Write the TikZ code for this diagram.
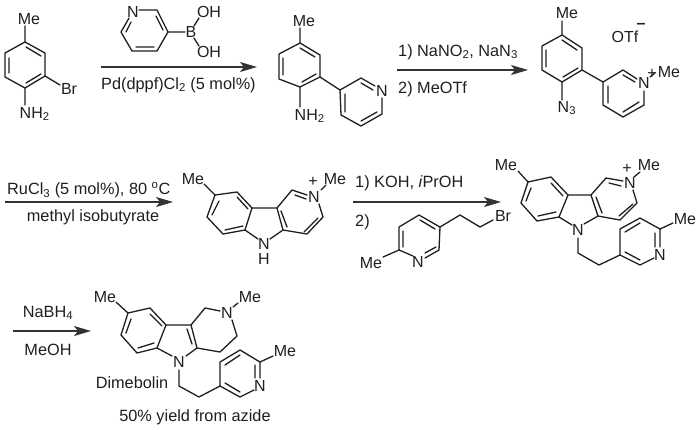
\documentclass[tikz,border=0pt]{standalone}
\usepackage{fontspec}
\setmainfont{Liberation Sans}
\usetikzlibrary{arrows.meta}
\tikzset{
  bond/.style={line width=1.3pt,line cap=round,line join=round,draw=black!88},
  rxn/.style={line width=1.3pt,draw=black!80,-{Stealth[length=17pt,width=10pt,inset=4pt]}},
  lab/.style={font=\fontsize{16}{17}\selectfont,inner sep=0pt,text=black!88},
  txt/.style={font=\fontsize{16.3}{17}\selectfont,inner sep=0pt,text=black!88},
}
\newcommand{\sbs}[1]{\textsubscript{#1}}
\begin{document}
\begin{tikzpicture}[x=1pt,y=-1pt]
\useasboundingbox (0,0) rectangle (700,429);
\fill[white] (0,0) rectangle (700,429);
% --- compound 1
\node[lab] (a1me) at (29,19) {Me};
\node[lab] (a1br) at (69,89) {Br};
\node[lab,anchor=west] (a1nh) at (19.5,114) {NH\sbs{2}};
\draw[bond] (25,26)--(25,42)--(45,53)--(45,76)--(25,88)--(5,77)--(5,53)--(25,42);
\draw[bond] (9,58)--(9,73) (26,47)--(41,56) (26,83)--(41,74);
\draw[bond] (45,76)--(60,85) (25,88)--(25,105);
% --- boronic acid
\node[lab] (bn) at (133,12) {N};
\node[lab] (bb) at (191,32) {B};
\node[lab] (boh1) at (209,12) {OH};
\node[lab] (boh2) at (209,52) {OH};
\draw[bond] (139,10)--(157,10)--(168,32)--(157,51)--(132,51)--(121,32)--(129,18);
\draw[bond] (156,16)--(163,30) (136,47)--(154,47) (126,32)--(131,22);
\draw[bond] (168,32)--(185,32) (194,26)--(199,18) (194,38)--(199,46);
% --- arrow 1
\coordinate (r1a) at (101,67); \coordinate (r1b) at (257,67);
\draw[rxn] (r1a)--(r1b);
\node[txt,anchor=west] (r1t) at (101,85) {Pd(dppf)Cl\sbs{2} (5 mol\%)};
% --- compound 2
\node[lab] (c2me) at (304,21) {Me};
\node[lab,anchor=west] (c2nh) at (294.5,116) {NH\sbs{2}};
\node[lab] (c2n) at (382,91) {N};
\draw[bond] (300,28)--(300,43)--(320,55)--(320,77)--(300,87)--(279,79)--(279,54)--(300,43);
\draw[bond] (283,58)--(283,75) (300,48)--(315,57) (302,82)--(316,74);
\draw[bond] (300,87)--(300,107) (320,77)--(340,90);
\draw[bond] (375,86)--(361,78)--(340,90)--(341,115)--(361,126)--(382,114)--(382,98);
\draw[bond] (345,94)--(345,112) (361,83)--(373,90) (361,121)--(377,112);
% --- arrow 2
\coordinate (r2a) at (397,70); \coordinate (r2b) at (528,70);
\draw[rxn] (r2a)--(r2b);
\node[txt,anchor=west] (r2t) at (398,52) {1) NaNO\sbs{2}, NaN\sbs{3}};
\node[txt,anchor=west] (r2u) at (398,89) {2) MeOTf};
% --- compound 3
\node[lab] (c3me) at (567,13) {Me};
\node[lab,anchor=west] (c3n3) at (557.5,108) {N\sbs{3}};
\node[lab] (c3n) at (644,83) {N};
\node[lab] (c3p) at (652,74) {+};
\node[lab] (c3me2) at (669,72) {Me};
\node[lab] (c3o) at (625,37) {OTf};
\node[lab] (c3m) at (641,26) {\textbf{--}};
\draw[bond] (562,21)--(562,35)--(582,48)--(582,70)--(562,82)--(542,70)--(542,46)--(562,35);
\draw[bond] (546,50)--(546,67) (562,40)--(577,50) (563,77)--(578,68);
\draw[bond] (562,82)--(562,100) (582,70)--(603,82);
\draw[bond] (637,79)--(623,70)--(603,82)--(603,105)--(623,117)--(644,105)--(644,91);
\draw[bond] (608,86)--(608,103) (623,75)--(635,82) (623,112)--(639,102);
\draw[bond] (650,77)--(655,73);
% --- arrow 3
\coordinate (r3a) at (5,202); \coordinate (r3b) at (173,202);
\draw[rxn] (r3a)--(r3b);
\node[txt,anchor=west] (r3t) at (7,190) {RuCl\sbs{3} (5 mol\%), 80 \textsuperscript{o}C};
\node[txt] (r3u) at (93,217) {methyl isobutyrate};
% --- carbolinium
\node[lab] (d1) at (193,179) {Me};
\node[lab] (d2) at (314,197) {N};
\node[lab] (d3) at (313,182) {+};
\node[lab] (d4) at (335,179) {Me};
\node[lab] (d5) at (264,244) {N};
\node[lab] (d6) at (264,259) {H};
\draw[bond] (204,184)--(215,195)--(237,192)--(252,208)--(245,230)--(223,234)--(207,217)--(215,195);
\draw[bond] (219,201)--(212,215) (237,197)--(248,209) (243,226)--(225,230);
\draw[bond] (252,208)--(277,208)--(292,190)--(307,195);
\draw[bond] (319,204)--(323,217)--(307,234)--(283,230)--(277,208);
\draw[bond] (245,230)--(258,239) (270,239)--(283,230);
\draw[bond] (295,195)--(306,199) (318,218)--(304,232) (281,211)--(287,227);
\draw[bond] (321,190)--(326,185);
% --- arrow 4
\coordinate (r4a) at (353,202); \coordinate (r4b) at (501,202);
\draw[rxn] (r4a)--(r4b);
\node[txt,anchor=west] (r4t) at (355,183) {1) KOH, \textit{i}PrOH};
\node[txt,anchor=west] (r4u) at (355,222) {2)};
% --- bromide
\node[lab] (e1) at (371,263) {Me};
\node[lab] (e2) at (418,262) {N};
\node[lab] (e3) at (503,216) {Br};
\draw[bond] (413,256)--(399,250)--(399,227)--(419,215)--(440,227)--(439,250)--(425,258);
\draw[bond] (403,247)--(403,231) (420,220)--(435,229) (436,247)--(425,253);
\draw[bond] (383,257)--(399,250) (440,227)--(460,215)--(480,227)--(493,220);
% --- compound 4
\node[lab] (f1) at (506,165) {Me};
\node[lab] (f2) at (630,183) {N};
\node[lab] (f3) at (627,169) {+};
\node[lab] (f4) at (649,165) {Me};
\node[lab] (f5) at (578,230) {N};
\node[lab] (f6) at (660,255) {N};
\node[lab] (f7) at (685,219) {Me};
\draw[bond] (518,171)--(528,182)--(551,177)--(568,195)--(559,217)--(537,221)--(521,203)--(528,182);
\draw[bond] (531,188)--(526,201) (551,183)--(563,196) (556,212)--(538,216);
\draw[bond] (568,195)--(591,195)--(606,178)--(623,181);
\draw[bond] (633,190)--(637,203)--(620,220)--(598,216)--(591,195);
\draw[bond] (559,217)--(572,225) (584,224)--(598,216);
\draw[bond] (609,183)--(621,186) (633,204)--(619,216) (596,197)--(602,213);
\draw[bond] (634,177)--(640,172);
\draw[bond] (578,238)--(578,253)--(599,265)--(620,255)--(620,229)--(640,218)--(660,229)--(660,247);
\draw[bond] (654,258)--(640,265)--(620,255);
\draw[bond] (625,232)--(640,223) (655,233)--(655,247) (625,252)--(640,260);
\draw[bond] (660,229)--(673,223);
% --- arrow 5
\coordinate (r5a) at (13,331); \coordinate (r5b) at (91,331);
\draw[rxn] (r5a)--(r5b);
\node[txt] (r5t) at (48,313) {NaBH\sbs{4}};
\node[txt] (r5u) at (48,350) {MeOH};
% --- dimebolin
\node[lab] (g1) at (105,297) {Me};
\node[lab] (g2) at (227,313) {N};
\node[lab] (g3) at (250,297) {Me};
\node[lab] (g4) at (179,362) {N};
\node[lab] (g5) at (260,386) {N};
\node[lab] (g6) at (285,351) {Me};
\node[txt] (g7) at (132,383) {Dimebolin};
\node[txt] (g8) at (195,417) {50\% yield from azide};
\draw[bond] (116,302)--(128,313)--(150,308)--(166,325)--(157,348)--(137,353)--(121,335)--(128,313);
\draw[bond] (131,319)--(126,333) (150,314)--(162,326) (154,343)--(138,348);
\draw[bond] (166,325)--(191,325)--(205,308)--(220,311);
\draw[bond] (232,320)--(237,336)--(220,352)--(197,348)--(191,325);
\draw[bond] (157,348)--(172,356) (186,356)--(197,348);
\draw[bond] (187,329)--(192,344);
\draw[bond] (233,307)--(238,303);
\draw[bond] (179,370)--(179,386)--(199,397)--(220,386)--(220,362)--(240,350)--(260,362)--(260,378);
\draw[bond] (254,390)--(240,397)--(220,386);
\draw[bond] (225,365)--(240,355) (255,365)--(255,378) (225,383)--(240,392);
\draw[bond] (260,362)--(273,356);
\end{tikzpicture}
\end{document}
